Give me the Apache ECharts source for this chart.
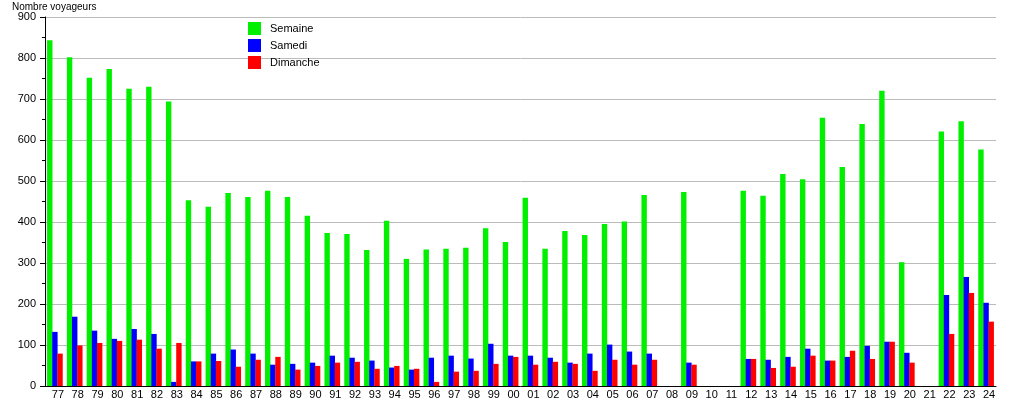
<!DOCTYPE html>
<html>
<head>
<meta charset="utf-8">
<script src="https://cdn.jsdelivr.net/npm/echarts@6/dist/echarts.min.js"></script>
<style>html,body{margin:0;padding:0;background:#fff;}#chart{width:1015px;height:400px;}</style>
</head>
<body>
<div id="chart"></div>
<script>
const years = ['77','78','79','80','81','82','83','84','85','86','87','88','89','90','91','92','93','94','95','96','97','98','99',
  '00','01','02','03','04','05','06','07','08','09','10','11','12','13','14','15','16','17','18','19','20','21','22','23','24'];
const semaine = [843,802,752,773,725,730,694,453,437,471,461,476,461,415,373,371,332,403,310,333,335,337,385,
  351,459,335,378,368,395,401,466,null,473,null,null,476,464,517,504,654,534,639,720,302,null,621,646,577];
const samedi = [132,169,135,115,139,127,10,60,79,89,79,52,54,57,74,69,62,45,40,69,74,67,103,
  74,74,69,57,79,101,84,79,null,57,null,null,66,64,71,91,62,71,98,108,81,null,222,266,203];
const dimanche = [79,99,105,110,113,91,105,60,61,47,64,71,40,49,57,59,42,49,42,10,35,37,54,
  71,52,59,54,37,64,52,64,null,52,null,null,66,44,47,74,62,86,66,108,57,null,127,227,157];
const seriesNames = ['Semaine','Samedi','Dimanche'];
const yTicks = {min:0, max:900, interval:100};

const font = 'Liberation Sans, Arial, sans-serif';
const chart = echarts.init(document.getElementById('chart'), null, {renderer:'canvas'});
const colors = ['#00f000','#0000ff','#ff0000'];
chart.setOption({
  animation:false,
  backgroundColor:'#fff',
  title:{text:'Nombre voyageurs', left:12, top:2, padding:0, textStyle:{fontFamily:font, fontSize:10, fontWeight:'normal', color:'#000'}},
  legend:{orient:'vertical', left:248, top:22, padding:0, itemWidth:13, itemHeight:13, itemGap:4, icon:'rect',
    textStyle:{fontFamily:font, fontSize:11, color:'#000', padding:[0,0,0,4]}, data:seriesNames},
  grid:{left:45, right:19, top:17, bottom:13, containLabel:false},
  xAxis:{type:'category', data:years, boundaryGap:true,
    axisLine:{lineStyle:{color:'#000', width:1}}, axisTick:{show:false},
    axisLabel:{fontFamily:font, fontSize:11, color:'#000', margin:3, interval:0, padding:[0,0,0,6]}},
  yAxis:{type:'value', min:yTicks.min, max:yTicks.max, interval:yTicks.interval,
    axisLine:{show:true, lineStyle:{color:'#000'}},
    axisTick:{show:true, length:5, lineStyle:{color:'#000'}},
    minorTick:{show:true, splitNumber:2, length:3, lineStyle:{color:'#000'}},
    splitLine:{show:true, lineStyle:{color:'#bbb', width:1}},
    axisLabel:{fontFamily:font, fontSize:11, color:'#000', margin:9}},
  series:[semaine, samedi, dimanche].map((d,i)=>({
    name:seriesNames[i], type:'bar', data:d, barWidth:5.4, barGap:'-5%',
    itemStyle:{color:colors[i]}
  }))
});
</script>
</body>
</html>
